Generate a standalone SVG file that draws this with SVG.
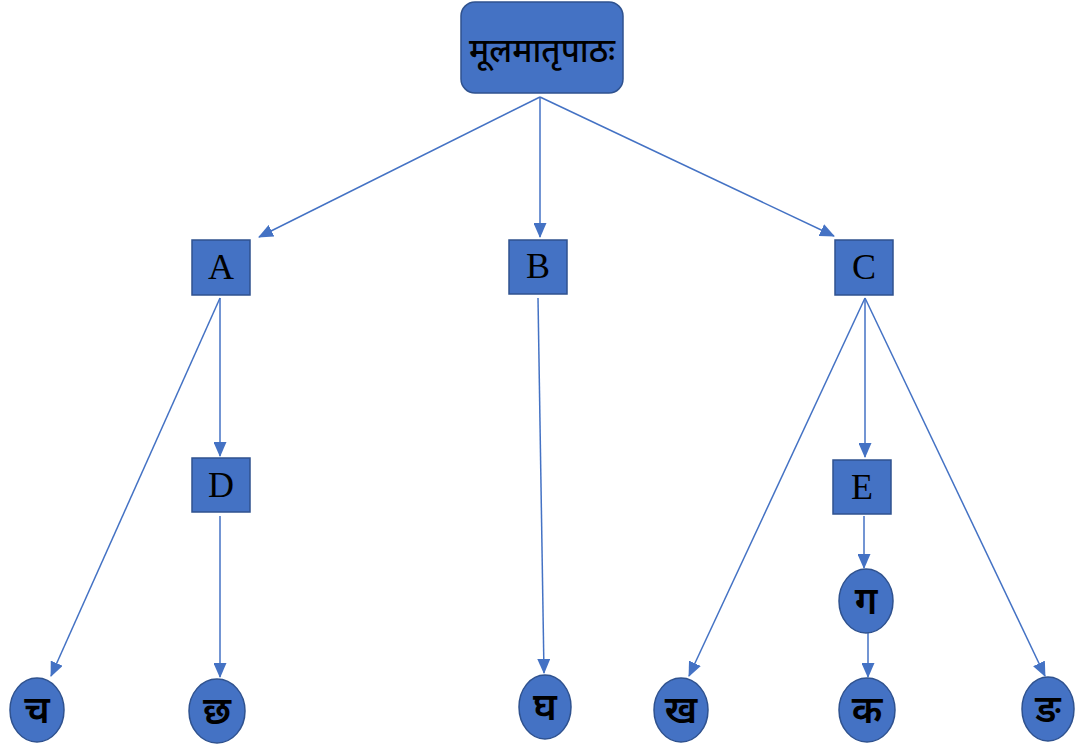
<svg xmlns="http://www.w3.org/2000/svg" width="1079" height="749" viewBox="0 0 1079 749">
<style>
.n{fill:#4472C4;stroke:#2F528F;stroke-width:1.5}
.lt{font-family:"Liberation Serif",serif;font-size:36px;fill:#000;text-anchor:middle}
.dv{font-family:"Noto Sans Devanagari","Noto Sans","Lohit Devanagari","FreeSans",sans-serif;font-size:38px;fill:#000;text-anchor:middle;font-weight:600}
.c{stroke:#4472C4;stroke-width:1.5;fill:none;marker-end:url(#ah)}
</style>
<defs>
<marker id="ah" markerWidth="15" markerHeight="13" refX="14" refY="6.5" orient="auto" markerUnits="userSpaceOnUse">
<path d="M0,0 L15,6.5 L0,13 Z" fill="#4472C4"/>
</marker>
</defs>
<rect width="1079" height="749" fill="#fff"/>
<g id="connectors">
<line class="c" x1="540" y1="97" x2="259" y2="237"/>
<line class="c" x1="540" y1="97" x2="540" y2="237"/>
<line class="c" x1="540" y1="97" x2="834" y2="236"/>
<line class="c" x1="220" y1="298" x2="51" y2="676"/>
<line class="c" x1="220" y1="298" x2="220" y2="456"/>
<line class="c" x1="220" y1="516" x2="220" y2="677"/>
<line class="c" x1="538" y1="298" x2="544" y2="673"/>
<line class="c" x1="865" y1="298" x2="689" y2="676"/>
<line class="c" x1="865" y1="298" x2="865" y2="457"/>
<line class="c" x1="865" y1="298" x2="1045" y2="676"/>
<line class="c" x1="864" y1="516" x2="864" y2="568"/>
<line class="c" x1="868" y1="633" x2="868" y2="677"/>
</g>
<g id="root">
<rect class="n" x="461" y="2" width="162" height="91" rx="14"/>
<text class="dv" x="542" y="62" style="font-size:33px;font-weight:500">मूलमातृपाठः</text>
</g>
<g id="A"><rect class="n" x="192" y="240" width="58" height="55"/><text class="lt" x="221" y="279">A</text></g>
<g id="B"><rect class="n" x="509" y="240" width="58" height="54"/><text class="lt" x="538" y="278">B</text></g>
<g id="C"><rect class="n" x="835" y="240" width="58" height="55"/><text class="lt" x="864" y="279">C</text></g>
<g id="D"><rect class="n" x="192" y="458" width="58" height="54"/><text class="lt" x="221" y="497">D</text></g>
<g id="E"><rect class="n" x="833" y="460" width="58" height="54"/><text class="lt" x="862" y="499">E</text></g>
<g id="cha"><ellipse class="n" cx="37" cy="710" rx="27" ry="32"/><text class="dv" x="37" y="723">च</text></g>
<g id="chha"><ellipse class="n" cx="217" cy="711" rx="28" ry="32"/><text class="dv" x="217" y="724">छ</text></g>
<g id="gha"><ellipse class="n" cx="545" cy="707" rx="26" ry="32"/><text class="dv" x="545" y="720">घ</text></g>
<g id="kha"><ellipse class="n" cx="681" cy="710" rx="27" ry="32"/><text class="dv" x="681" y="723">ख</text></g>
<g id="ga"><ellipse class="n" cx="866" cy="601" rx="27" ry="32"/><text class="dv" x="866" y="614">ग</text></g>
<g id="ka"><ellipse class="n" cx="867" cy="710" rx="28" ry="32"/><text class="dv" x="867" y="723">क</text></g>
<g id="nga"><ellipse class="n" cx="1048" cy="709" rx="26" ry="32"/><text class="dv" x="1048" y="722">ङ</text></g>
</svg>
